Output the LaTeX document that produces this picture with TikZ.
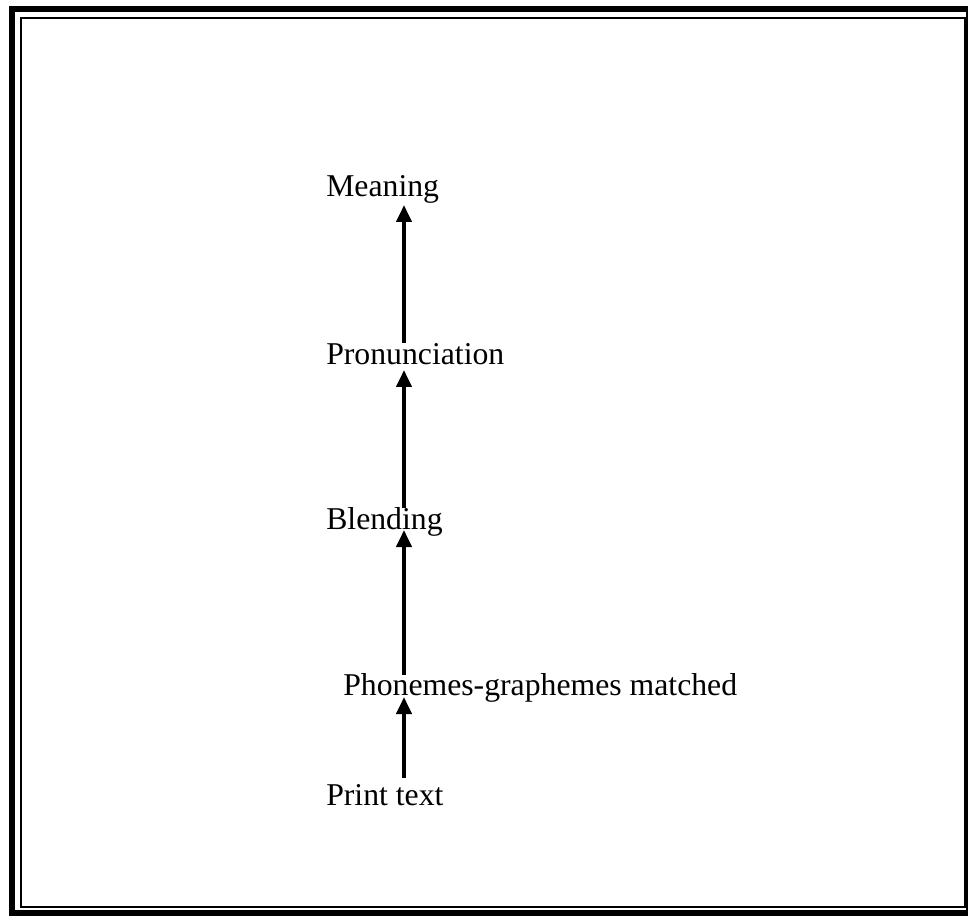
\documentclass[tikz,border=0pt]{standalone}
\usepackage{fontspec}
\setmainfont{Liberation Serif}
\usetikzlibrary{arrows.meta}
\begin{document}
\begin{tikzpicture}[x=0.75pt,y=-0.75pt,
  lbl/.style={anchor=base west,inner sep=0pt,font=\fontsize{23.8}{28}\selectfont},
  arr/.style={line width=3pt,-{Triangle[width=11.25pt,length=12.75pt]}},
  outerframe/.style={line width=4.5pt},
  innerframe/.style={line width=1.5pt}]
\useasboundingbox (0,0) rectangle (968,916);
\draw[outerframe] (12,9) rectangle (969,913);
\draw[innerframe] (21,18) rectangle (965,907);
\node[lbl] (meaning) at (326,197) {Meaning};
\node[lbl] (pron) at (326,364) {Pronunciation};
\node[lbl] (blend) at (326,529) {Blending};
\node[lbl] (phon) at (343,695) {Phonemes-graphemes matched};
\node[lbl] (print) at (326,805) {Print text};
\coordinate (s1) at (404,778); \coordinate (t1) at (404,697);
\coordinate (s2) at (404,675); \coordinate (t2) at (404,530);
\coordinate (s3) at (404,508); \coordinate (t3) at (404,370);
\coordinate (s4) at (404,343); \coordinate (t4) at (404,205);
\draw[arr] (s1) -- (t1);
\draw[arr] (s2) -- (t2);
\draw[arr] (s3) -- (t3);
\draw[arr] (s4) -- (t4);
\end{tikzpicture}
\end{document}
